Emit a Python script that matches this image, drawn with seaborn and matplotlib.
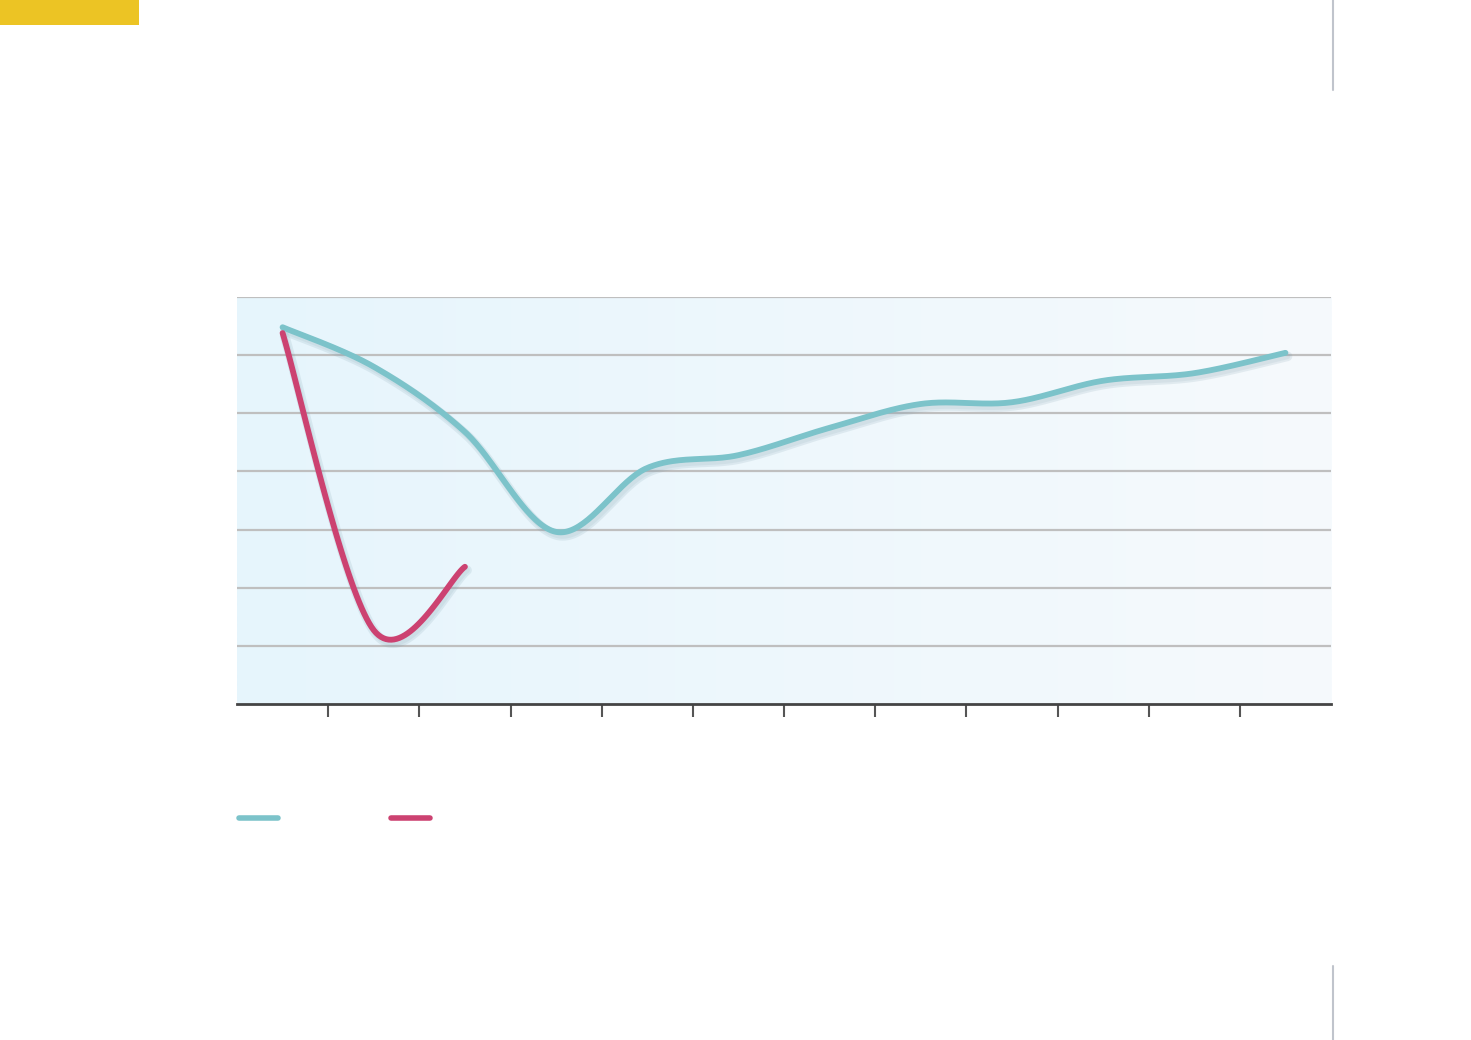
import numpy as np
import pandas as pd
import matplotlib
matplotlib.use("Agg")
import matplotlib.pyplot as plt
import matplotlib.patheffects as pe
from matplotlib.lines import Line2D
from matplotlib.patches import Rectangle
import seaborn as sns

# ---- data ----
categories = list(range(12))
series_a = [6.48, 5.80, 4.68, 2.96, 4.06, 4.28, 4.75, 5.16, 5.19, 5.56, 5.69, 6.04]
series_b = [6.38, 1.27, 2.36]
tick_labels = [""] * 11

TEAL = "#7cc3ca"
RED = "#cc4271"


def catmull_rom(xs, ys, n=40):
    xs = np.asarray(xs, float)
    ys = np.asarray(ys, float)
    px = np.concatenate([[xs[0]], xs, [xs[-1]]])
    py = np.concatenate([[ys[0]], ys, [ys[-1]]])
    outx, outy = [], []
    for i in range(1, len(px) - 2):
        x0, x1, x2, x3 = px[i - 1:i + 3]
        y0, y1, y2, y3 = py[i - 1:i + 3]
        t = np.linspace(0, 1, n, endpoint=(i == len(px) - 3))
        h00 = 2 * t**3 - 3 * t**2 + 1
        h10 = t**3 - 2 * t**2 + t
        h01 = -2 * t**3 + 3 * t**2
        h11 = t**3 - t**2
        mx1, mx2 = (x2 - x0) / 2, (x3 - x1) / 2
        my1, my2 = (y2 - y0) / 2, (y3 - y1) / 2
        outx.append(h00 * x1 + h10 * mx1 + h01 * x2 + h11 * mx2)
        outy.append(h00 * y1 + h10 * my1 + h01 * y2 + h11 * my2)
    return np.concatenate(outx), np.concatenate(outy)


sns.set_theme(style="white")
fig = plt.figure(figsize=(14.71, 10.40), dpi=100)
fig.patch.set_facecolor("white")
ax = fig.add_axes([237 / 1471, 1 - 704 / 1040, (1331 - 237) / 1471, (704 - 297) / 1040])

ax.set_xlim(-0.5, 11.5)
ax.set_ylim(0, 7)

# gradient background
grad = np.linspace(0, 1, 1024).reshape(1, -1)
cmap = matplotlib.colors.LinearSegmentedColormap.from_list("bg", ["#e6f5fc", "#f6fafd"], N=1024)
ax.imshow(grad, extent=[-0.5, 11.5, 0, 7], aspect="auto", cmap=cmap, zorder=0,
          interpolation="bilinear")
ax.set_facecolor("white")

# gridlines
for yv in range(1, 8):
    ax.axhline(yv, color="#bfbfbf", lw=1.6, zorder=1)

shadow = [pe.SimpleLineShadow(offset=(1.5, -2.5), shadow_color="#7f9fad", alpha=0.16, rho=0.9,
                              linewidth=7),
          pe.SimpleLineShadow(offset=(1.5, -2.5), shadow_color="#7f9fad", alpha=0.12, rho=0.9),
          pe.Normal()]

ax_x, ax_y = catmull_rom(categories, series_a)
dfa = pd.DataFrame({"x": ax_x, "y": ax_y})
sns.lineplot(data=dfa, x="x", y="y", ax=ax, color=TEAL, lw=4.2, sort=False,
             solid_capstyle="round", path_effects=shadow, zorder=3)

bx, by = catmull_rom(categories[:len(series_b)], series_b)
dfb = pd.DataFrame({"x": bx, "y": by})
sns.lineplot(data=dfb, x="x", y="y", ax=ax, color=RED, lw=4.2, sort=False,
             solid_capstyle="round", path_effects=shadow, zorder=4)

ax.set_xlabel("")
ax.set_ylabel("")
ax.set_xticks(np.arange(0.5, 11, 1.0))
ax.set_xticklabels(tick_labels)
ax.set_yticks([])
ax.tick_params(axis="x", direction="out", length=9, width=1.5, color="#555555", bottom=True, pad=2)
for s in ["top", "left", "right"]:
    ax.spines[s].set_visible(False)
ax.spines["bottom"].set_color("#444444")
ax.spines["bottom"].set_linewidth(2.0)
ax.spines["bottom"].set_zorder(5)

# legend swatches (no text in the reference)
fig.add_artist(Line2D([239 / 1471, 278 / 1471], [1 - 818 / 1040] * 2, color=TEAL, lw=4,
                      solid_capstyle="round"))
fig.add_artist(Line2D([391 / 1471, 430 / 1471], [1 - 818 / 1040] * 2, color=RED, lw=4,
                      solid_capstyle="round"))

# decorative page elements
fig.add_artist(Rectangle((0, 1 - 25 / 1040), 139 / 1471, 25 / 1040, transform=fig.transFigure,
                         color="#ecc424", lw=0))
fig.add_artist(Line2D([1333 / 1471] * 2, [1, 1 - 90 / 1040], color="#c0c4cc", lw=1.5))
fig.add_artist(Line2D([1333 / 1471] * 2, [1 - 966 / 1040, 0], color="#c0c4cc", lw=1.5))

fig.savefig("out.png", dpi=100)
